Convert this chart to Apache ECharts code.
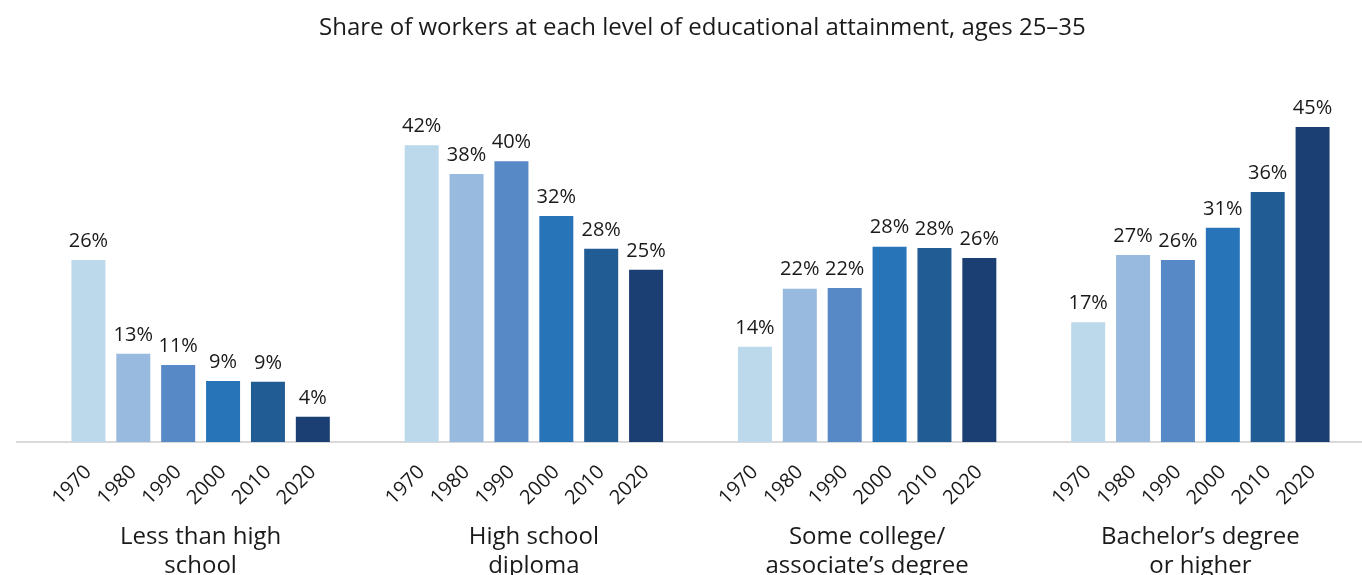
<!DOCTYPE html>
<html><head><meta charset="utf-8">
<script src="https://cdn.jsdelivr.net/npm/echarts@6/dist/echarts.min.js"></script>
<style>html,body{margin:0;padding:0;background:#fff}#c{width:1362px;height:575px}</style>
</head><body><div id="c"></div>
<script>
const categories = ['Less than high\nschool', 'High school\ndiploma', 'Some college/\nassociate’s degree', 'Bachelor’s degree\nor higher'];
const years = ['1970', '1980', '1990', '2000', '2010', '2020'];
const v1970 = [26.0, 42.4, 13.6, 17.1];
const v1980 = [12.6, 38.3, 21.9, 26.7];
const v1990 = [11.0, 40.1, 22.0, 26.0];
const v2000 = [8.7, 32.3, 27.9, 30.6];
const v2010 = [8.6, 27.6, 27.7, 35.7];
const v2020 = [3.6, 24.6, 26.3, 45.0];
const colors = ['#bcd9eb', '#98badf', '#5689c5', '#2874b9', '#215c94', '#1b3f73'];
const values = [v1970, v1980, v1990, v2000, v2010, v2020];
const FONT = 'Open Sans';

const series = [];
years.forEach((y, i) => {
  series.push({
    type: 'bar', name: y + ' label', stack: 's' + y, silent: true,
    barWidth: 34, barGap: '32%',
    data: categories.map(() => 0),
    itemStyle: { color: 'rgba(0,0,0,0)' },
    label: {
      show: true, position: 'bottom', distance: 27, rotate: 45,
      align: 'right', verticalAlign: 'middle',
      formatter: () => y, fontFamily: FONT, fontSize: 20, color: '#1a1a1a'
    }
  });
  series.push({
    type: 'bar', name: y, stack: 's' + y,
    barWidth: 34, barGap: '32%',
    data: values[i],
    itemStyle: { color: colors[i] },
    label: {
      show: true, position: 'top', distance: 9,
      formatter: p => Math.round(p.value) + '%',
      fontFamily: FONT, fontSize: 20, color: '#1a1a1a'
    }
  });
});

const chart = echarts.init(document.getElementById('c'));
chart.setOption({
  animation: false,
  title: {
    text: 'Share of workers at each level of educational attainment, ages 25–35',
    left: 314, top: 11,
    textStyle: { fontFamily: FONT, fontSize: 24, fontWeight: 'normal', color: '#1a1a1a' }
  },
  grid: { left: 34, right: -5, top: 92, bottom: 133, outerBoundsMode: 'none', containLabel: false },
  xAxis: {
    type: 'category', data: categories,
    axisLine: { show: false }, axisTick: { show: false },
    axisLabel: { margin: 81, fontFamily: FONT, fontSize: 24, lineHeight: 29, color: '#1a1a1a', interval: 0 }
  },
  yAxis: { type: 'value', min: 0, max: 50, show: false, splitLine: { show: false } },
  graphic: [{ type: 'line', shape: { x1: 16, y1: 442, x2: 1362, y2: 442 }, style: { stroke: '#d9d9d9', lineWidth: 2 }, z: 0 }],
  series: series
});
</script></body></html>
